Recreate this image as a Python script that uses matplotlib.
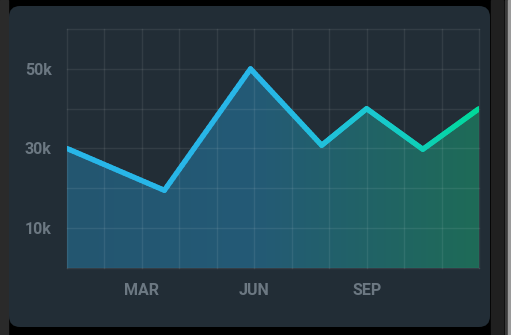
import numpy as np
import matplotlib.pyplot as plt
from matplotlib.patches import FancyBboxPatch, Rectangle
from matplotlib.collections import LineCollection
from matplotlib.colors import LinearSegmentedColormap

plt.rcParams['font.family'] = ['Roboto', 'DejaVu Sans']

# data (x in month index, JAN = 0)
x_vals = [0, 2.6, 4.9, 6.8, 8.0, 9.5, 11]
y_vals = [30000, 19500, 50000, 30800, 40000, 29800, 40000]
y_ticks = [10000, 30000, 50000]
y_tick_labels = ['10k', '30k', '50k']
x_ticks = [2, 5, 8]
x_tick_labels = ['MAR', 'JUN', 'SEP']

W, H = 511, 335
fig = plt.figure(figsize=(W / 100, H / 100), dpi=100)
fig.patch.set_facecolor('#000000')

# background strips + card
fig.patches.append(Rectangle((0, 0), 8 / W, 1, transform=fig.transFigure, color='#2a2a2a', zorder=-5))
fig.patches.append(Rectangle((491 / W, 0), 12 / W, 1, transform=fig.transFigure, color='#202020', zorder=-5))
fig.patches.append(Rectangle((505 / W, 0), 3 / W, 1, transform=fig.transFigure, color='#3a3a3a', zorder=-5))
fig.patches.append(Rectangle((508 / W, 0), 3 / W, 1, transform=fig.transFigure, color='#9a9a9a', zorder=-5))
card = FancyBboxPatch((9, 335 - 327), 481, 321, boxstyle='round,pad=0,rounding_size=11',
                      transform=None, facecolor='#222d36', edgecolor='none', zorder=-4)
fig.patches.append(card)

ax = fig.add_axes([67 / W, (H - 268) / H, 412 / W, 239 / H])
ax.set_facecolor('none')
ax.set_xlim(0, 11)
ax.set_ylim(0, 60000)

# gradient fill under the line
fill_cmap = LinearSegmentedColormap.from_list('fill', [(0, '#235670'), (0.45, '#245a76'), (1, '#1e6b57')])
poly = ax.fill_between(x_vals, y_vals, 0, color='none')
grad = np.linspace(0, 1, 256).reshape(1, -1)
im = ax.imshow(grad, cmap=fill_cmap, extent=[0, 11, 0, 60000], aspect='auto', zorder=1)
im.set_clip_path(poly.get_paths()[0], transform=ax.transData)

# grid
for gx in range(12):
    ax.axvline(gx, color='white', alpha=0.08, lw=1, zorder=2, clip_on=False)
for gy in range(0, 60001, 10000):
    ax.axhline(gy, color='white', alpha=0.08, lw=1, zorder=2, clip_on=False)

# gradient line
line_cmap = LinearSegmentedColormap.from_list('line', [(0, '#28b6e8'), (0.48, '#28b6e8'), (0.75, '#1ac8d0'), (1, '#00d99a')])
segs, cols = [], []
for i in range(len(x_vals) - 1):
    xs = np.linspace(x_vals[i], x_vals[i + 1], 30)
    ys = np.linspace(y_vals[i], y_vals[i + 1], 30)
    pts = np.column_stack([xs, ys])
    for j in range(len(pts) - 1):
        segs.append(pts[j:j + 2])
        cols.append(line_cmap((xs[j] + xs[j + 1]) / 2 / 11))
lc = LineCollection(segs, colors=cols, linewidths=3.8, capstyle='round', joinstyle='round', zorder=3)
ax.add_collection(lc)

for s in ax.spines.values():
    s.set_visible(False)
ax.set_yticks(y_ticks)
ax.set_yticklabels(y_tick_labels)
ax.set_xticks(x_ticks)
ax.set_xticklabels(x_tick_labels)
ax.tick_params(length=0, colors='#6c7882', labelsize=11.5)
ax.tick_params(axis='y', pad=11)
ax.tick_params(axis='x', pad=11)
for t in ax.get_xticklabels() + ax.get_yticklabels():
    t.set_fontweight('bold')

fig.savefig('out.png', dpi=100, facecolor=fig.get_facecolor())
